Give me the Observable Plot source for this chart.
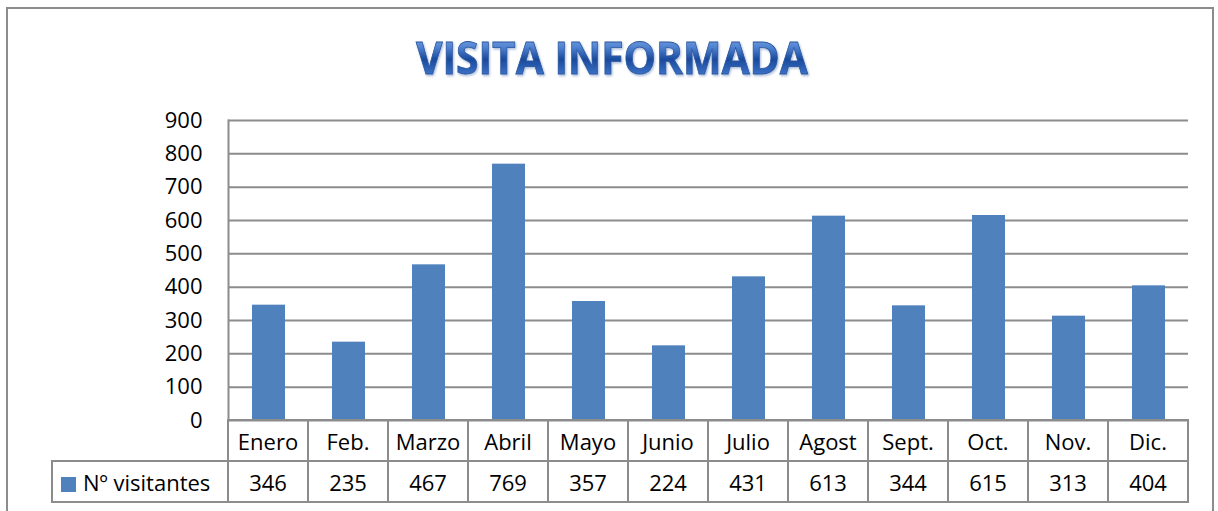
<!DOCTYPE html>
<html><head><meta charset="utf-8">
<script src="https://cdn.jsdelivr.net/npm/d3@7"></script>
<script src="https://cdn.jsdelivr.net/npm/@observablehq/plot@0.6"></script>
<style>
body{margin:0;background:#fff;font-family:"Open Sans",sans-serif;}
#page{position:relative;width:1218px;height:511px;overflow:hidden;background:#fff;}
#frame{position:absolute;left:6px;top:7px;width:1208px;height:530px;border:2px solid #8c8c8c;box-sizing:border-box;}
#title{position:absolute;left:0;top:0;}
#plot{position:absolute;left:0;top:0;}
#tbl{position:absolute;border-collapse:collapse;font-family:"Open Sans",sans-serif;font-size:22px;color:#000;table-layout:fixed;}
#tbl td{border:2px solid #8c8c8c;text-align:center;padding:0;height:39px;white-space:nowrap;}
#tbl td.blank{border:none;border-right:2px solid #8c8c8c;}
.sw{display:inline-block;width:15px;height:15px;background:#4f81bd;margin-right:7px;vertical-align:-1px;}
</style></head>
<body>
<div id="page">
  <div id="frame"></div>
  <svg id="title" width="1218" height="100"></svg>
  <div id="plot"></div>
  <table id="tbl"></table>
</div>
<script>
const title = "VISITA INFORMADA";
const seriesName = "Nº visitantes";
const months = ["Enero","Feb.","Marzo","Abril","Mayo","Junio","Julio","Agost","Sept.","Oct.","Nov.","Dic."];
const visitors = [346,235,467,769,357,224,431,613,344,615,313,404];
const yTicks = [0,100,200,300,400,500,600,700,800,900];

const data = months.map((m,i)=>({month:m, value:visitors[i]}));

const plot = Plot.plot({
  width:1218, height:430,
  marginLeft:228, marginRight:30, marginTop:120, marginBottom:10,
  style:{fontFamily:"'Open Sans',sans-serif", fontSize:"22px", color:"#000", background:"transparent", overflow:"visible"},
  x:{domain:months, paddingInner:0.59, paddingOuter:0.295, axis:null},
  y:{domain:[0,900], axis:null},
  marks:[
    Plot.ruleY(yTicks,{stroke:"#8c8c8c", strokeWidth:2}),
    Plot.frame({anchor:"left", stroke:"#8c8c8c", strokeWidth:2}),
    Plot.barY(data,{x:"month", y:"value", fill:"#4f81bd"}),
    Plot.axisY(yTicks,{tickSize:0, tickPadding:26, fontSize:22, label:null, fill:"#000"})
  ]
});
document.getElementById("plot").appendChild(plot);

// Title (WordArt-like)
const ts = d3.select("#title");
const defs = ts.append("defs");
const g = defs.append("linearGradient").attr("id","tg").attr("x1",0).attr("y1",0).attr("x2",0).attr("y2",1);
[["0%","#a4c6f0"],["35%","#4f82d0"],["55%","#1a4a9c"],["80%","#3c73c8"],["100%","#8ab4ec"]].forEach(([o,c])=>g.append("stop").attr("offset",o).attr("stop-color",c));
const f = defs.append("filter").attr("id","sh").attr("x","-5%").attr("y","-20%").attr("width","110%").attr("height","140%");
f.append("feDropShadow").attr("dx",1).attr("dy",1.5).attr("stdDeviation",1.2).attr("flood-color","#7f9cc8").attr("flood-opacity",0.7);
ts.append("text").attr("x",612).attr("y",74).attr("text-anchor","middle")
  .attr("font-family","'Open Sans',sans-serif").attr("font-weight","bold").attr("font-size",45)
  .attr("textLength",392).attr("lengthAdjust","spacingAndGlyphs")
  .attr("fill","url(#tg)").attr("stroke","#2a56a0").attr("stroke-width",0.8)
  .attr("filter","url(#sh)").text(title);

// Data table
const x = plot.scale("x");
const y = plot.scale("y");
const step = x.step;
const left0 = x.range[0];
const legendW = 176;
const tbl = d3.select("#tbl")
  .style("left", (left0 - legendW - 1) + "px")
  .style("top", (y.apply(0) - 1) + "px")
  .style("width", (legendW + step*months.length) + "px");
const cg = tbl.append("colgroup");
cg.append("col").style("width", legendW + "px");
months.forEach(()=>cg.append("col").style("width", step + "px"));
const r1 = tbl.append("tr");
r1.append("td").attr("class","blank");
months.forEach(m=>r1.append("td").text(m));
const r2 = tbl.append("tr");
const lc = r2.append("td").style("text-align","left").style("padding-left","8px");
lc.append("span").attr("class","sw");
lc.append("span").text(seriesName);
visitors.forEach(v=>r2.append("td").text(v));
</script>
</body></html>
